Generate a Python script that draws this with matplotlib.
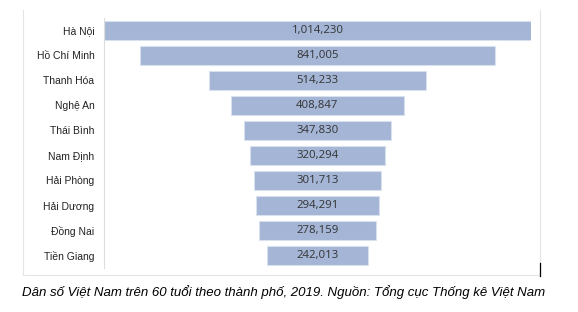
import matplotlib.pyplot as plt
from matplotlib.lines import Line2D

# Population over 60 by province, 2019
cities = ["Hà Nội", "Hồ Chí Minh", "Thanh Hóa", "Nghệ An", "Thái Bình",
          "Nam Định", "Hải Phòng", "Hải Dương", "Đồng Nai", "Tiền Giang"]
values = [1014230, 841005, 514233, 408847, 347830,
          320294, 301713, 294291, 278159, 242013]

fig = plt.figure(figsize=(5.78, 3.12), dpi=100)

# light frame around the chart area (left, bottom, right edges)
x0, x1 = 23 / 578, 540 / 578
ytop, ybot = 1 - 10 / 312, 1 - 275 / 312
for xs, ys in [([x0, x0], [ytop, ybot]), ([x0, x1], [ybot, ybot]), ([x1, x1], [ytop, ybot])]:
    fig.lines.append(Line2D(xs, ys, transform=fig.transFigure,
                            color="#e4e4e4", linewidth=0.8))

ax = fig.add_axes([104 / 578, 1 - 268 / 312, 427 / 578, 250 / 312])

ypos = list(range(len(cities)))
lefts = [-v / 2 for v in values]
ax.barh(ypos, values, left=lefts, height=0.78, color="#a4b5d5",
        edgecolor="#d9e1ef", linewidth=0.8)

for y, v in zip(ypos, values):
    ax.text(0, y, f"{v:,}", ha="center", va="center", fontsize=8.2,
            color="#333333", family="Open Sans")

ax.set_yticks(ypos)
ax.set_yticklabels(cities, family="Liberation Sans", fontsize=7.5, color="#222222")
ax.tick_params(axis="y", length=0, pad=7)
ax.set_xticks([])
ax.set_xlim(-values[0] / 2, values[0] / 2)
ax.set_ylim(len(cities) - 0.5, -0.5)

for side in ["top", "right", "bottom"]:
    ax.spines[side].set_visible(False)
ax.spines["left"].set_color("#dddddd")
ax.spines["left"].set_linewidth(0.8)

# small cursor mark at bottom-right of the frame
fig.lines.append(Line2D([540 / 578, 540 / 578], [1 - 263 / 312, 1 - 276 / 312],
                        transform=fig.transFigure, color="black", linewidth=0.9))

fig.text(22 / 578, 1 - 292 / 312,
         "Dân số Việt Nam trên 60 tuổi theo thành phố, 2019. Nguồn: Tổng cục Thống kê Việt Nam",
         ha="left", va="center", fontsize=9.5, style="italic",
         family="Liberation Sans", color="black")

fig.savefig("out.png", dpi=100)
